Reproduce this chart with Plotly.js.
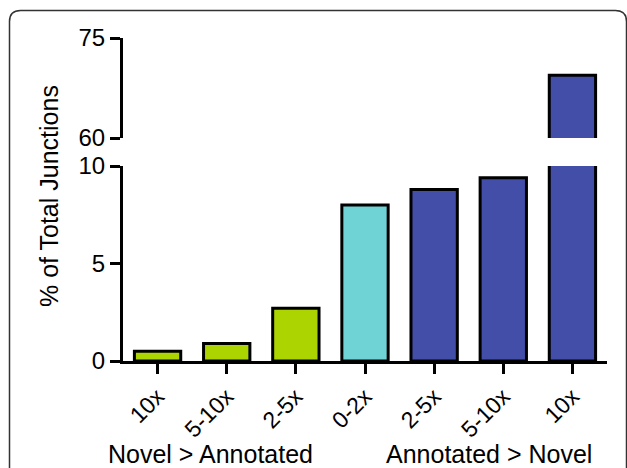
<!DOCTYPE html>
<html>
<head>
<meta charset="utf-8">
<script src="https://cdn.plot.ly/plotly-3.0.1.min.js"></script>
<style>
html,body{margin:0;padding:0;background:#fff;}
#chart{width:627px;height:468px;}
</style>
</head>
<body>
<div id="chart"></div>
<script>
// ---- data ----
const categories = ["10x", "5-10x", "2-5x", "0-2x", "2-5x ", "5-10x ", "10x "];
const tickLabels = ["10x", "5-10x", "2-5x", "0-2x", "2-5x", "5-10x", "10x"];
const values = [0.5, 0.9, 2.7, 8.0, 8.8, 9.4, 69.4];
const barColors = ["#acd400", "#acd400", "#acd400", "#6fd3d6", "#434ea8", "#434ea8", "#434ea8"];
const groupLabels = ["Novel > Annotated", "Annotated > Novel"];
const yTitle = "% of Total Junctions";
const lowerTicks = [0, 5, 10];
const upperTicks = [60, 75];

const W = 627, H = 468;
const px = v => v / W;
const py = v => 1 - v / H;

const FONT = "Liberation Sans, Arial, sans-serif";

const barMarker = {color: barColors, line: {color: "#000", width: 3}};

const traces = [
  {type: "bar", x: categories, y: values, marker: barMarker, xaxis: "x", yaxis: "y", hoverinfo: "none"},
  {type: "bar", x: categories, y: values, marker: barMarker, xaxis: "x2", yaxis: "y2", hoverinfo: "none"}
];

const xDomain = [px(123), px(607)];

// rounded frame
function framePath() {
  const L = 9.5, T = 10.5, R = 626.5, B = 480, r = 11;
  const p = (x, y) => px(x) + "," + py(y);
  return "M" + p(L, B) + " L" + p(L, T + r) + " Q" + p(L, T) + " " + p(L + r, T) +
         " L" + p(R - r, T) + " Q" + p(R, T) + " " + p(R, T + r) + " L" + p(R, B);
}

const axisCommon = {
  showline: true, linewidth: 3, linecolor: "#000",
  ticks: "outside", ticklen: 10, tickwidth: 3, tickcolor: "#000",
  showgrid: false, zeroline: false, fixedrange: true
};

const layout = {
  width: W, height: H,
  margin: {l: 0, r: 0, t: 0, b: 0},
  paper_bgcolor: "#fff", plot_bgcolor: "rgba(0,0,0,0)",
  showlegend: false,
  bargap: 0.33,
  font: {family: FONT, color: "#000"},
  xaxis: Object.assign({
    domain: xDomain, anchor: "y", type: "category",
    range: [-0.5, 6.5],
    tickvals: categories, ticktext: tickLabels,
    tickangle: -45, tickfont: {size: 23, family: FONT, color: "#000"}
  }, axisCommon),
  xaxis2: {
    domain: xDomain, anchor: "y2", matches: "x", visible: false,
    showgrid: false, zeroline: false
  },
  yaxis: Object.assign({
    domain: [py(361), py(166)], anchor: "x",
    range: [0, 10], tickvals: lowerTicks,
    tickfont: {size: 24, family: FONT, color: "#000"}
  }, axisCommon),
  yaxis2: Object.assign({
    domain: [py(138), py(38)], anchor: "x2",
    range: [60, 75], tickvals: upperTicks,
    tickfont: {size: 24, family: FONT, color: "#000"}
  }, axisCommon),
  annotations: [
    {text: yTitle, xref: "paper", yref: "paper", x: px(49), y: py(196),
     textangle: -90, showarrow: false, xanchor: "center", yanchor: "middle",
     font: {size: 25, family: FONT, color: "#000"}},
    {text: groupLabels[0], xref: "paper", yref: "paper", x: px(210), y: py(454),
     showarrow: false, xanchor: "center", yanchor: "middle",
     font: {size: 25, family: FONT, color: "#000"}},
    {text: groupLabels[1], xref: "paper", yref: "paper", x: px(489), y: py(454),
     showarrow: false, xanchor: "center", yanchor: "middle",
     font: {size: 25, family: FONT, color: "#000"}}
  ],
  shapes: [
    {type: "path", xref: "paper", yref: "paper", path: framePath(),
     line: {color: "#333", width: 1.5}, fillcolor: "rgba(0,0,0,0)"}
  ]
};

Plotly.newPlot("chart", traces, layout, {displayModeBar: false, staticPlot: true});
</script>
</body>
</html>
